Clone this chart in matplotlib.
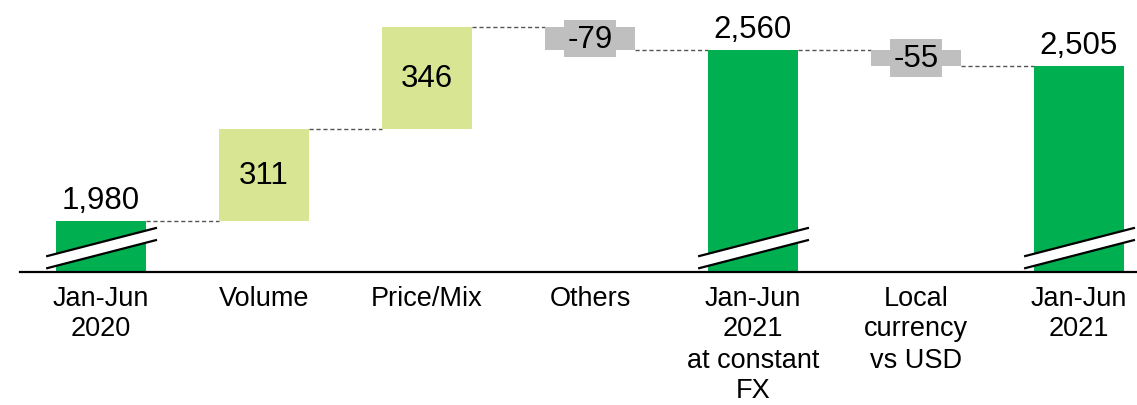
import matplotlib.pyplot as plt
from matplotlib.patches import Polygon

plt.rcParams['font.family'] = ['Liberation Sans', 'DejaVu Sans']

categories = ["Jan-Jun\n2020", "Volume", "Price/Mix", "Others",
              "Jan-Jun\n2021\nat constant\nFX", "Local\ncurrency\nvs USD",
              "Jan-Jun\n2021"]
values = [1980, 311, 346, -79, 2560, -55, 2505]
is_total = [True, False, False, False, True, False, True]

GREEN = "#00B050"
LIGHT = "#D8E694"
GRAY = "#BFBFBF"
Y_MIN, Y_MAX = 1807, 2732
WIDTH = 0.555

fig = plt.figure(figsize=(11.37, 4.06), dpi=100)
ax = fig.add_axes([20 / 1137, 133 / 406, 1 - 20 / 1137, 273 / 406])

running = 0
bottoms, heights, colors, ends = [], [], [], []
for v, tot in zip(values, is_total):
    if tot:
        bottoms.append(Y_MIN)
        heights.append(v - Y_MIN)
        colors.append(GREEN)
        running = v
    else:
        if v >= 0:
            bottoms.append(running)
            colors.append(LIGHT)
        else:
            bottoms.append(running + v)
            colors.append(GRAY)
        heights.append(abs(v))
        running += v
    ends.append(running)

x = list(range(len(values)))
ax.bar(x, heights, bottom=bottoms, width=WIDTH, color=colors, zorder=2)

# dashed connectors
for i in range(len(values) - 1):
    ax.plot([i + WIDTH / 2, i + 1 - WIDTH / 2], [ends[i], ends[i]],
            ls=(0, (3, 2)), color="#555555", lw=1.0, zorder=1)

# value labels
for i, (v, tot) in enumerate(zip(values, is_total)):
    if tot:
        ax.annotate(f"{v:,}", (i, v), xytext=(0, 4), textcoords="offset points",
                    ha="center", va="bottom", fontsize=22.5, zorder=5)
    elif v >= 0:
        ax.text(i, bottoms[i] + heights[i] / 2, f"{v}", ha="center",
                va="center", fontsize=22.5, zorder=5)
    else:
        ax.text(i, bottoms[i] + heights[i] / 2, f"{v}", ha="center",
                va="center", fontsize=22.5, zorder=5,
                bbox=dict(boxstyle="square,pad=0.12", fc=GRAY, ec="none"))

# axis break marks on total bars
for i, tot in enumerate(is_total):
    if not tot:
        continue
    x0, x1 = i - 0.33, i + 0.337
    up0, up1 = Y_MIN + 54, Y_MIN + 149
    lo0, lo1 = Y_MIN + 13, Y_MIN + 108
    ax.add_patch(Polygon([[x0, up0], [x1, up1], [x1, lo1], [x0, lo0]],
                         closed=True, fc="white", ec="none", zorder=3))
    ax.plot([x0, x1], [up0, up1], color="black", lw=1.6, zorder=4)
    ax.plot([x0, x1], [lo0, lo1], color="black", lw=1.6, zorder=4)

ax.set_xlim(-0.497, 6.356)
ax.set_ylim(Y_MIN, Y_MAX)
ax.set_xticks(x)
ax.set_xticklabels(categories, fontsize=19.5, linespacing=1.25)
ax.tick_params(axis="x", length=0, pad=9)
ax.set_yticks([])
for s in ["left", "right", "top"]:
    ax.spines[s].set_visible(False)
ax.spines["bottom"].set_linewidth(1.6)
ax.spines["bottom"].set_zorder(6)

fig.savefig("out.png", dpi=100)
